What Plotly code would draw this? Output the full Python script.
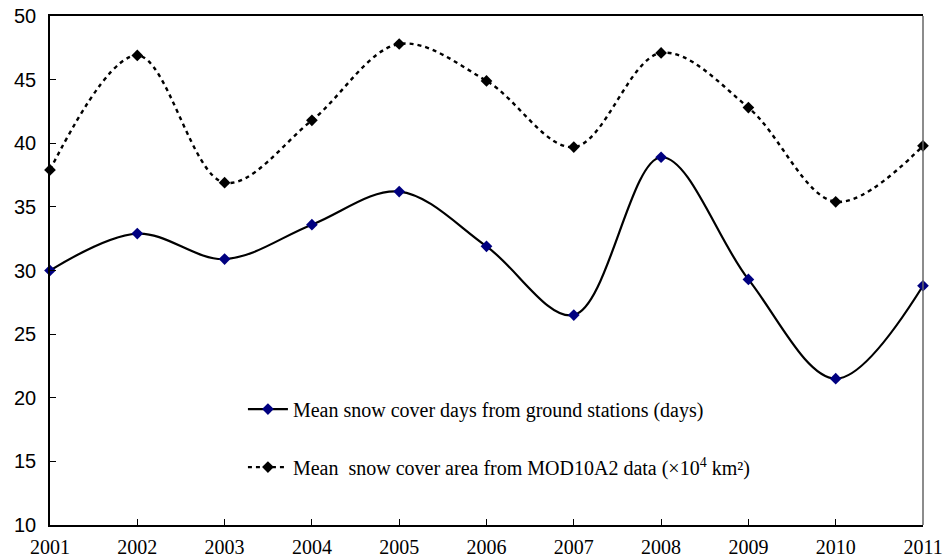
import plotly.graph_objects as go

years = [2001, 2002, 2003, 2004, 2005, 2006, 2007, 2008, 2009, 2010, 2011]
snow_days = [30.0, 32.9, 30.9, 33.6, 36.2, 31.9, 26.5, 38.9, 29.3, 21.5, 28.8]
snow_area = [37.9, 46.9, 36.9, 41.8, 47.8, 44.9, 39.7, 47.1, 42.8, 35.4, 39.8]
y_ticks = [10, 15, 20, 25, 30, 35, 40, 45, 50]
x_ticks = years

name_days = "Mean snow cover days from ground stations (days)"
name_area = "Mean\u00a0\u00a0snow cover area from MOD10A2 data (×10<sup>4</sup> km²)"

fig = go.Figure()
fig.add_trace(go.Scatter(
    x=years, y=snow_days, mode="lines+markers", name=name_days,
    line=dict(color="black", width=2.2, shape="spline", smoothing=1.0),
    marker=dict(symbol="diamond", size=9, color="#000080"),
    legendgroup="a", cliponaxis=False,
))
fig.add_trace(go.Scatter(
    x=years, y=snow_area, mode="lines+markers", name=name_area,
    line=dict(color="black", width=2.4, shape="spline", smoothing=1.0, dash="4px,4px"),
    marker=dict(symbol="diamond", size=9, color="black"),
    legendgroup="b", cliponaxis=False,
))

fig.update_layout(
    width=945, height=559,
    margin=dict(l=50, r=22, t=16, b=34),
    plot_bgcolor="white", paper_bgcolor="white",
    showlegend=True,
    legend=dict(
        x=0.221, y=0.266, xanchor="left", yanchor="top",
        bgcolor="rgba(0,0,0,0)",
        font=dict(family="Liberation Serif", size=20, color="black"),
        tracegroupgap=29, itemwidth=40,
    ),
    xaxis=dict(
        range=[2001, 2011], tickvals=x_ticks, ticktext=[str(v) for v in x_ticks],
        ticks="inside", ticklen=6, tickcolor="black",
        showline=True, linecolor="black", linewidth=1.5, mirror=True,
        showgrid=False, zeroline=False, automargin=False,
        tickfont=dict(family="Liberation Serif", size=20, color="black"),
        ticklabelstandoff=3,
    ),
    yaxis=dict(
        range=[10, 50], tickvals=y_ticks,
        ticks="inside", ticklen=6, tickcolor="black",
        showline=True, linecolor="black", linewidth=1.5,
        showgrid=False, zeroline=False, automargin=False,
        tickfont=dict(family="Liberation Sans", size=20, color="black"),
        ticklabelstandoff=8,
    ),
    shapes=[dict(type="line", xref="paper", yref="paper", x0=1, x1=1, y0=0, y1=1,
                 line=dict(color="#666666", width=1.5))],
)

fig.write_html("out.html")
